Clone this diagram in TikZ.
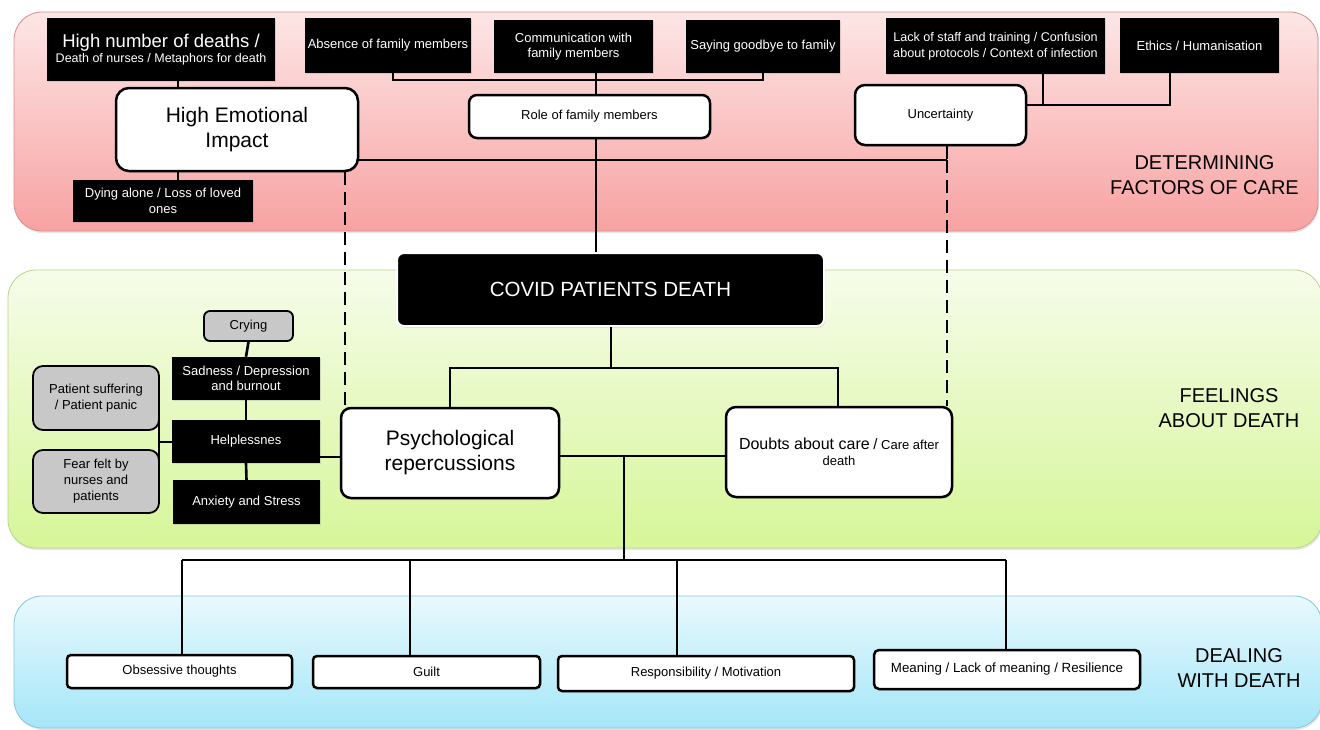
\documentclass[tikz,border=0pt]{standalone}
\usepackage{fontspec}
\setmainfont{Liberation Sans}
\usetikzlibrary{shadows}
\definecolor{redtop}{RGB}{253,230,230}
\definecolor{redbot}{RGB}{248,162,162}
\definecolor{redline}{RGB}{215,140,140}
\definecolor{grntop}{RGB}{246,252,234}
\definecolor{grnbot}{RGB}{214,246,152}
\definecolor{grnline}{RGB}{185,212,140}
\definecolor{blutop}{RGB}{232,249,253}
\definecolor{blubot}{RGB}{165,230,248}
\definecolor{bluline}{RGB}{135,198,220}
\definecolor{graybox}{RGB}{200,200,200}
\tikzset{
  band/.style={rounded corners=28pt, line width=0.8pt, drop shadow={opacity=0.2, shadow xshift=1pt, shadow yshift=-2pt}},
  blk/.style={fill=black, text=white, inner sep=0pt, align=center, font=\fontsize{13}{15.5}\selectfont, drop shadow={opacity=0.25, shadow xshift=1pt, shadow yshift=-1pt}},
  wbox/.style={fill=white, draw=black, line width=2.5pt, rounded corners=10pt, inner sep=0pt, align=center, font=\fontsize{13}{15.5}\selectfont, drop shadow={opacity=0.3, shadow xshift=1pt, shadow yshift=-1.5pt}},
  gbox/.style={fill=graybox, draw=black, line width=1.8pt, rounded corners=8pt, inner sep=0pt, align=center, font=\fontsize{13}{16}\selectfont},
  conn/.style={line width=2.6pt},
  dsh/.style={line width=2.8pt, dash pattern=on 13pt off 7pt},
  side/.style={font=\fontsize{20}{25}\selectfont, align=center, inner sep=0pt}
}
\begin{document}
\begin{tikzpicture}[x=1pt,y=-1pt]
\useasboundingbox (0,0) rectangle (1320,729);
% bands
\path[band, draw=redline, top color=redtop, bottom color=redbot] (14,12) rectangle (1318,231);
\path[band, draw=grnline, top color=grntop, bottom color=grnbot] (8,270) rectangle (1322,548);
\path[band, draw=bluline, top color=blutop, bottom color=blubot] (14,596) rectangle (1322,728);

% side labels
\node[side] (lab1) at (1204.5,175) {DETERMINING\\FACTORS OF CARE};
\node[side] (lab2) at (1229,408) {FEELINGS\\ABOUT DEATH};
\node[side] (lab3) at (1239,668) {DEALING\\WITH DEATH};

% top row
\node[blk, minimum width=228pt, minimum height=63pt, font=\fontsize{12.5}{15}\selectfont] (A1) at (161,49.5)
  {{\fontsize{18.5}{19}\selectfont High number of deaths /}\\Death of nurses / Metaphors for death};
\node[blk, minimum width=166pt, minimum height=55pt] (A2) at (388,45.5) {Absence of family members};
\node[blk, minimum width=159pt, minimum height=53pt] (A3) at (573.5,46.5) {Communication with\\family members};
\node[blk, minimum width=154pt, minimum height=53pt] (A4) at (763,46.5) {Saying goodbye to family};
\node[blk, minimum width=219pt, minimum height=56pt, font=\fontsize{12.6}{15.5}\selectfont] (A5) at (995.5,46) {Lack of staff and training / Confusion\\about protocols / Context of infection};
\node[blk, minimum width=159pt, minimum height=55pt] (A6) at (1199.5,45.5) {Ethics / Humanisation};

\node[wbox, minimum width=242pt, minimum height=83pt, rounded corners=13pt, font=\fontsize{21}{25}\selectfont] (HEI) at (237,129.5) {High Emotional\\Impact};
\node[wbox, minimum width=241pt, minimum height=43pt, rounded corners=8pt] (RFM) at (589.5,116.5) {Role of family members};
\node[wbox, minimum width=171pt, minimum height=60pt] (UNC) at (940.5,115) {Uncertainty};
\node[blk, minimum width=180pt, minimum height=42pt] (DA) at (163,201) {Dying alone / Loss of loved\\ones};

% green section
\node[fill=black, text=white, draw=white, line width=2pt, rounded corners=7pt, inner sep=0pt,
      minimum width=427pt, minimum height=73pt, font=\fontsize{20.5}{24}\selectfont,
      drop shadow={opacity=0.3, shadow xshift=1pt, shadow yshift=-1.5pt}] (COV) at (610.5,289.5) {COVID PATIENTS DEATH};
\node[wbox, minimum width=218pt, minimum height=90pt, font=\fontsize{21}{25}\selectfont] (PSY) at (450,453) {Psychological\\repercussions};
\node[wbox, minimum width=226pt, minimum height=90pt] (DOU) at (839,452)
  {{\fontsize{16}{18}\selectfont Doubts about care} {\fontsize{15}{17}\selectfont /} {\fontsize{13}{16}\selectfont Care after}\\{\fontsize{13}{16}\selectfont death}};

\node[gbox, minimum width=89pt, minimum height=30pt, rounded corners=6pt] (CRY) at (248.5,326) {Crying};
\node[blk, minimum width=148pt, minimum height=43pt] (SAD) at (246,378.5) {Sadness / Depression\\and burnout};
\node[blk, minimum width=148pt, minimum height=43pt] (HEL) at (246,441.5) {Helplessnes};
\node[blk, minimum width=147pt, minimum height=44pt] (ANX) at (246.5,502) {Anxiety and Stress};
\node[gbox, minimum width=126pt, minimum height=64pt, rounded corners=10pt] (PS) at (96,398) {Patient suffering\\/ Patient panic};
\node[gbox, minimum width=126pt, minimum height=63pt, rounded corners=10pt] (FEA) at (96,481.5) {Fear felt by\\nurses and\\patients};

% blue section
\node[wbox, minimum width=225pt, minimum height=33pt, rounded corners=4pt] (OBS) at (179.5,671.5) {Obsessive thoughts};
\node[wbox, minimum width=227pt, minimum height=32pt, rounded corners=4pt] (GUI) at (426.5,672) {Guilt};
\node[wbox, minimum width=296pt, minimum height=35pt, rounded corners=4pt] (RES) at (706,673.5) {Responsibility / Motivation};
\node[wbox, minimum width=266pt, minimum height=39pt, rounded corners=5pt, font=\fontsize{13.3}{16}\selectfont] (MEA) at (1007,669.5) {Meaning / Lack of meaning / Resilience};

% junction coordinates
\coordinate (x178) at (178,0);
\coordinate (x393) at (393,80);
\coordinate (x763) at (763,80);
\coordinate (x596) at (596,80);
\coordinate (y160) at (947,160);
\coordinate (x345) at (345,0);
\coordinate (u1) at (1043,105);
\coordinate (u2) at (1170,105);
\coordinate (c1) at (611,368);
\coordinate (c2) at (450,368);
\coordinate (c3) at (838,368);
\coordinate (m1) at (624,456);
\coordinate (b0) at (624,560);
\coordinate (b1) at (182,560);
\coordinate (b2) at (410,560);
\coordinate (b3) at (677,560);
\coordinate (b4) at (1006,560);
\coordinate (g1) at (159,442);
\coordinate (g2) at (159,418);
\coordinate (g3) at (159,464);
\coordinate (h1) at (0,457);

% connectors top
\draw[conn] (A1.south -| x178) -- (HEI.north -| x178);
\draw[conn] (HEI.south -| x178) -- (DA.north -| x178);
\draw[conn] (A2.south -| x393) -- (x393) -- (x763) -- (A4.south -| x763);
\draw[conn] (A3.south -| x596) -- (RFM.north -| x596);
\draw[conn] (RFM.south -| x596) -- (COV.north -| x596);
\draw[conn] (HEI.east |- y160) -- (y160);
\draw[dsh] (UNC.south -| y160) -- (y160);
\draw[dsh] (y160) -- (DOU.north -| y160);
\draw[dsh] (HEI.south -| x345) -- (PSY.north -| x345);
\draw[conn] (A5.south -| u1) -- (u1);
\draw[conn] (UNC.east |- u1) -- (u2) -- (A6.south -| u2);

% connectors middle
\draw[conn] (COV.south -| c1) -- (c1);
\draw[conn] (PSY.north -| c2) -- (c2) -- (c3) -- (DOU.north -| c3);
\draw[conn] (PSY.east |- m1) -- (DOU.west |- m1);
\draw[conn] (m1) -- (b0);
\draw[conn] (CRY.south) -- (SAD.north);
\draw[conn] (SAD.south) -- (HEL.north);
\draw[conn] (HEL.south) -- (ANX.north);
\draw[conn] (g2) -- (g3);
\draw[conn] (g1) -- (HEL.west |- g1);
\draw[conn] (HEL.east |- h1) -- (PSY.west |- h1);

% connectors bottom
\draw[conn] (b1) -- (b4);
\draw[conn] (b1) -- (OBS.north -| b1);
\draw[conn] (b2) -- (GUI.north -| b2);
\draw[conn] (b3) -- (RES.north -| b3);
\draw[conn] (b4) -- (MEA.north -| b4);
\end{tikzpicture}
\end{document}
